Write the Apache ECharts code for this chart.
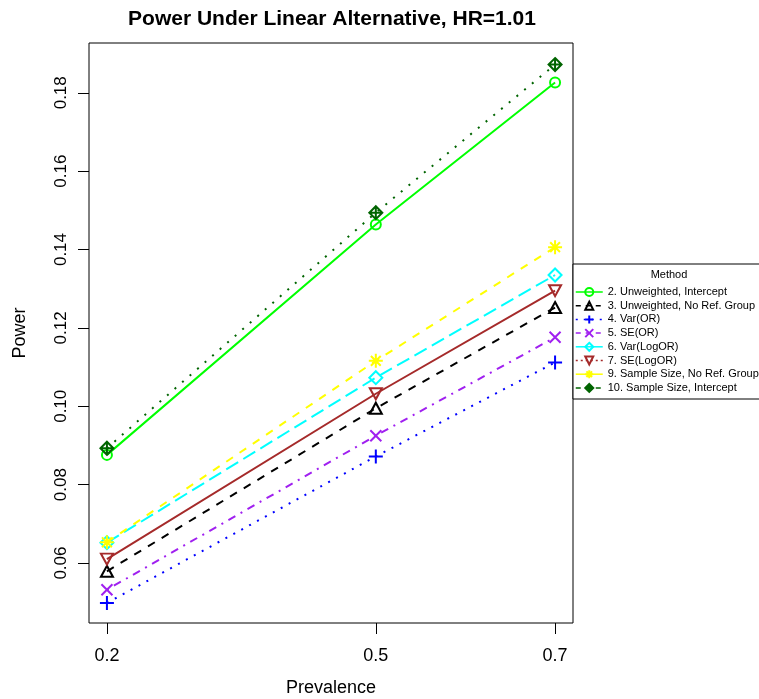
<!DOCTYPE html>
<html>
<head>
<meta charset="utf-8">
<script src="https://cdn.jsdelivr.net/npm/echarts@6/dist/echarts.min.js"></script>
<style>html,body{margin:0;padding:0;background:#fff}#c{width:759px;height:699px}</style>
</head>
<body>
<div id="c"></div>
<script>
const prevalence = [0.2, 0.5, 0.7];
const xTicks = [0.2, 0.5, 0.7];
const yTicks = [0.06, 0.08, 0.10, 0.12, 0.14, 0.16, 0.18];
const names = ["2. Unweighted, Intercept", "3. Unweighted, No Ref. Group", "4. Var(OR)", "5. SE(OR)",
  "6. Var(LogOR)", "7. SE(LogOR)", "9. Sample Size, No Ref. Group", "10. Sample Size, Intercept"];
const s2 = [0.0876, 0.1464, 0.1826];
const s3 = [0.0579, 0.0995, 0.1252];
const s4 = [0.0498, 0.0872, 0.1112];
const s5 = [0.0532, 0.0925, 0.1176];
const s6 = [0.0652, 0.1073, 0.1335];
const s7 = [0.0610, 0.1032, 0.1295];
const s9 = [0.0653, 0.1116, 0.1406];
const s10 = [0.0893, 0.1494, 0.1872];
const values = [s2, s3, s4, s5, s6, s7, s9, s10];

const colors = ['#00FF00', '#000000', '#0000FF', '#A020F0', '#00FFFF', '#A52A2A', '#FFFF00', '#006400'];
const lineTypes = ['solid', [8, 8], [2, 7], [2, 6, 8, 6], [14, 6], 'solid', [8, 8], [2, 8]];
const legendTypes = ['solid', [5, 5], [2, 6], [5, 5], 'solid', [2, 3], 'solid', [5, 5]];
const symbols = ['circle', 'triangle', 'path://M0,5L10,5M5,0L5,10', 'path://M0,0L10,10M0,10L10,0',
  'diamond', 'triangle',
  'path://M0,5L10,5M5,0L5,10M1.5,1.5L8.5,8.5M1.5,8.5L8.5,1.5',
  'path://M5,0L10,5L5,10L0,5ZM0,5L10,5M5,0L5,10'];
const sizes = [10, [12, 11], 14, 11, 13, [12, 11], 14, 13];
const rot = [0, 0, 0, 0, 0, 180, 0, 0];

const series = values.map((vals, i) => ({
  name: names[i],
  type: 'line',
  data: prevalence.map((p, j) => [p, vals[j]]),
  symbol: symbols[i],
  symbolSize: sizes[i],
  symbolRotate: rot[i],
  showAllSymbol: true,
  lineStyle: { color: colors[i], width: 2, type: lineTypes[i] },
  itemStyle: { color: 'rgba(255,255,255,0)', borderColor: colors[i], borderWidth: 2 },
  emphasis: { disabled: true },
  animation: false,
  z: 3 + i
}));

const chart = echarts.init(document.getElementById('c'));
chart.setOption({
  animation: false,
  backgroundColor: '#fff',
  textStyle: { fontFamily: 'Liberation Sans' },
  grid: { left: 89, top: 43, right: 186, bottom: 76, show: true, borderColor: '#000', borderWidth: 1 },
  xAxis: {
    type: 'value', min: 0.18, max: 0.72,
    axisLine: { show: false }, splitLine: { show: false },
    axisTick: { show: true, inside: false, length: 11, customValues: xTicks, lineStyle: { color: '#000' } },
    axisLabel: { customValues: xTicks, formatter: v => v.toFixed(1), color: '#000', fontSize: 18, margin: 24 }
  },
  yAxis: {
    type: 'value', min: 0.0447, max: 0.1927,
    axisLine: { show: false }, splitLine: { show: false },
    axisTick: { show: true, inside: false, length: 11, customValues: yTicks, lineStyle: { color: '#000' } },
    axisLabel: { customValues: yTicks, formatter: v => v.toFixed(2), color: '#000', fontSize: 17, rotate: 90, margin: 19 }
  },
  legend: {
    orient: 'vertical', left: 575, top: 286.5, padding: 0,
    itemWidth: 27, itemHeight: 10, itemGap: 2.7, z: 20,
    textStyle: { fontSize: 11, color: '#000', fontFamily: 'Liberation Sans' },
    data: names.map((n, i) => ({ name: n, lineStyle: { type: legendTypes[i], width: 1.5 } })),
    selectedMode: false
  },
  graphic: [
    { type: 'rect', z: 10, shape: { x: 573, y: 264, width: 200, height: 135 }, style: { fill: '#fff', stroke: '#000', lineWidth: 1 } },
    { type: 'text', z: 11, x: 669, y: 275, style: { text: 'Method', font: '11px "Liberation Sans"', fill: '#000', align: 'center', verticalAlign: 'middle' } },
    { type: 'text', z: 11, x: 332, y: 19, style: { text: 'Power Under Linear Alternative, HR=1.01', font: 'bold 21px "Liberation Sans"', fill: '#000', align: 'center', verticalAlign: 'middle' } },
    { type: 'text', z: 11, x: 331, y: 688, style: { text: 'Prevalence', font: '18px "Liberation Sans"', fill: '#000', align: 'center', verticalAlign: 'middle' } },
    { type: 'text', z: 11, x: 20, y: 333, rotation: Math.PI / 2, style: { text: 'Power', font: '18px "Liberation Sans"', fill: '#000', align: 'center', verticalAlign: 'middle' } }
  ],
  series: series
});
</script>
</body>
</html>
